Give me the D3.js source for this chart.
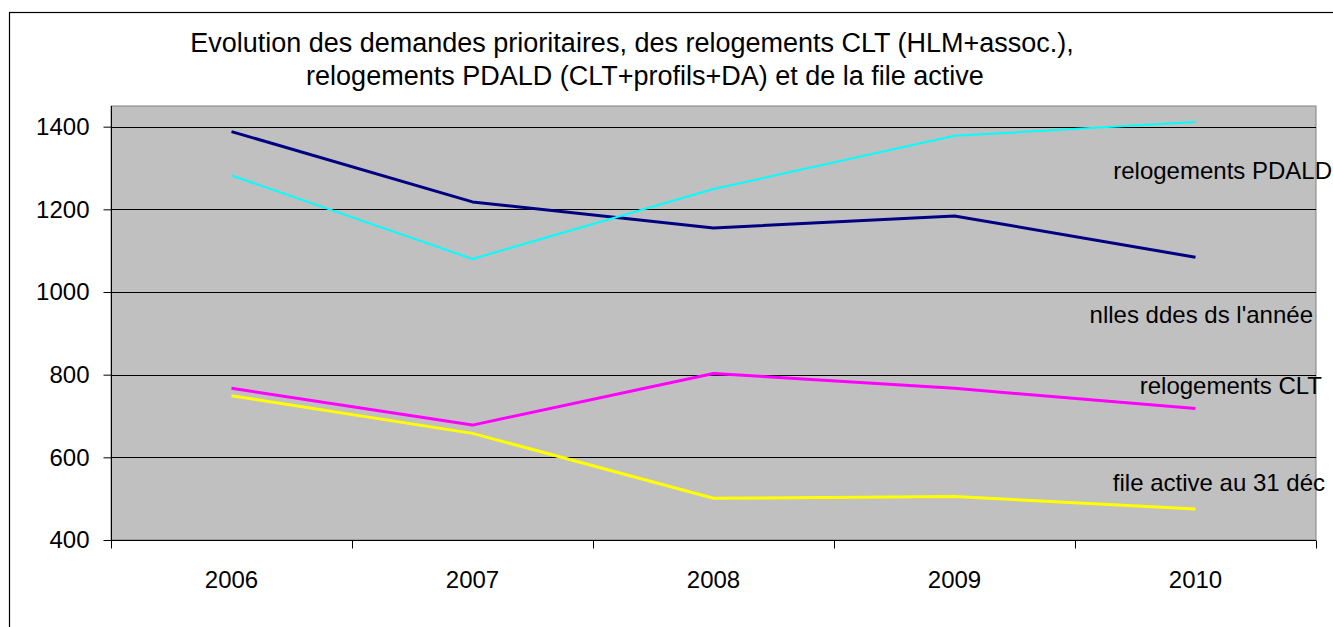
<!DOCTYPE html>
<html><head><meta charset="utf-8">
<script src="https://cdn.jsdelivr.net/npm/d3@7"></script>
<style>
html,body{margin:0;padding:0;background:#fff;}
svg text{font-family:"Liberation Sans",Arial,sans-serif;fill:#000;}
</style></head>
<body><svg id="c" width="1333" height="627"></svg>
<script>
const years = ["2006","2007","2008","2009","2010"];
const yTicks = [400,600,800,1000,1200,1400];
const nllesDdes = [1388,1218,1155,1184,1084];
const relogPDALD = [1282,1080,1249,1378,1411];
const relogCLT = [767,678,803,767,718];
const fileActive = [749,658,501,505,475];
const seriesNames = ["nlles ddes ds l'année","relogements PDALD","relogements CLT","file active au 31 déc"];
const seriesColors = ["#000080","#00FFFF","#FF00FF","#FFFF00"];
const seriesWidths = [3,2,3,3];
const titleLines = ["Evolution des demandes prioritaires, des relogements CLT (HLM+assoc.),",
                    "relogements PDALD (CLT+profils+DA) et de la file active"];

const series = [nllesDdes, relogPDALD, relogCLT, fileActive].map((v,i)=>({name:seriesNames[i],values:v,color:seriesColors[i],w:seriesWidths[i]}));

const svg = d3.select("#c");
const L=111, R=1316, T=106, B=540;
const x = d3.scaleBand().domain(years).range([L,R]).paddingInner(0).paddingOuter(0);
const y = d3.scaleLinear().domain([400,1450]).range([B,T]);

// outer border
svg.append("rect").attr("x",9.5).attr("y",12.5).attr("width",1400).attr("height",700)
  .attr("fill","none").attr("stroke","#000").attr("stroke-width",1.2);

// plot area
svg.append("rect").attr("x",L).attr("y",T).attr("width",R-L).attr("height",B-T)
  .attr("fill","#C0C0C0").attr("stroke","#808080").attr("stroke-width",1);

// gridlines
svg.append("g").selectAll("line").data(yTicks.filter(d=>d>400)).join("line")
  .attr("x1",L).attr("x2",R).attr("y1",d=>Math.round(y(d))+0.5).attr("y2",d=>Math.round(y(d))+0.5)
  .attr("stroke","#000").attr("stroke-width",1);

// y axis
const yAxis = d3.axisLeft(y).tickValues(yTicks).tickSize(8).tickPadding(14).tickFormat(d3.format("d"));
const gy = svg.append("g").attr("transform",`translate(${L+0.5},0)`).call(yAxis);
gy.select(".domain").attr("stroke","#000").attr("d",`M0,${T}V${B}`);
gy.selectAll(".tick line").attr("stroke","#000");
gy.selectAll("text").style("font-size","24px").attr("fill","#000");

// x axis
const xAxis = d3.axisBottom(x).tickSize(0).tickPadding(30);
const gx = svg.append("g").attr("transform",`translate(0,${B+0.5})`).call(xAxis);
gx.select(".domain").attr("stroke","#000").attr("d",`M${L},0H${R}`);
gx.selectAll("text").style("font-size","24px").attr("fill","#000");
// category boundary ticks
const bounds = years.map(d=>x(d)).concat([x(years[years.length-1])+x.bandwidth()]);
gx.selectAll(".bt").data(bounds).join("line").attr("class","bt")
  .attr("x1",d=>Math.round(d)+0.5).attr("x2",d=>Math.round(d)+0.5).attr("y1",0).attr("y2",8)
  .attr("stroke","#000");

// lines
const line = d3.line().x((d,i)=>x(years[i])+x.bandwidth()/2).y(d=>y(d));
svg.append("g").selectAll("path").data(series).join("path")
  .attr("d",d=>line(d.values)).attr("fill","none")
  .attr("stroke",d=>d.color).attr("stroke-width",d=>d.w).attr("stroke-linejoin","round");

// series labels (free text)
const labelPos = [{x:1313,y:323},{x:1332,y:179},{x:1322,y:394},{x:1325,y:491}];
svg.append("g").selectAll("text").data(series).join("text")
  .attr("x",(d,i)=>labelPos[i].x).attr("y",(d,i)=>labelPos[i].y)
  .attr("text-anchor","end").style("font-size","24px").text(d=>d.name);

// title
svg.append("text").attr("x",632).attr("y",52).attr("text-anchor","middle").style("font-size","27px").text(titleLines[0]);
svg.append("text").attr("x",645).attr("y",85).attr("text-anchor","middle").style("font-size","27px").text(titleLines[1]);
</script></body></html>
